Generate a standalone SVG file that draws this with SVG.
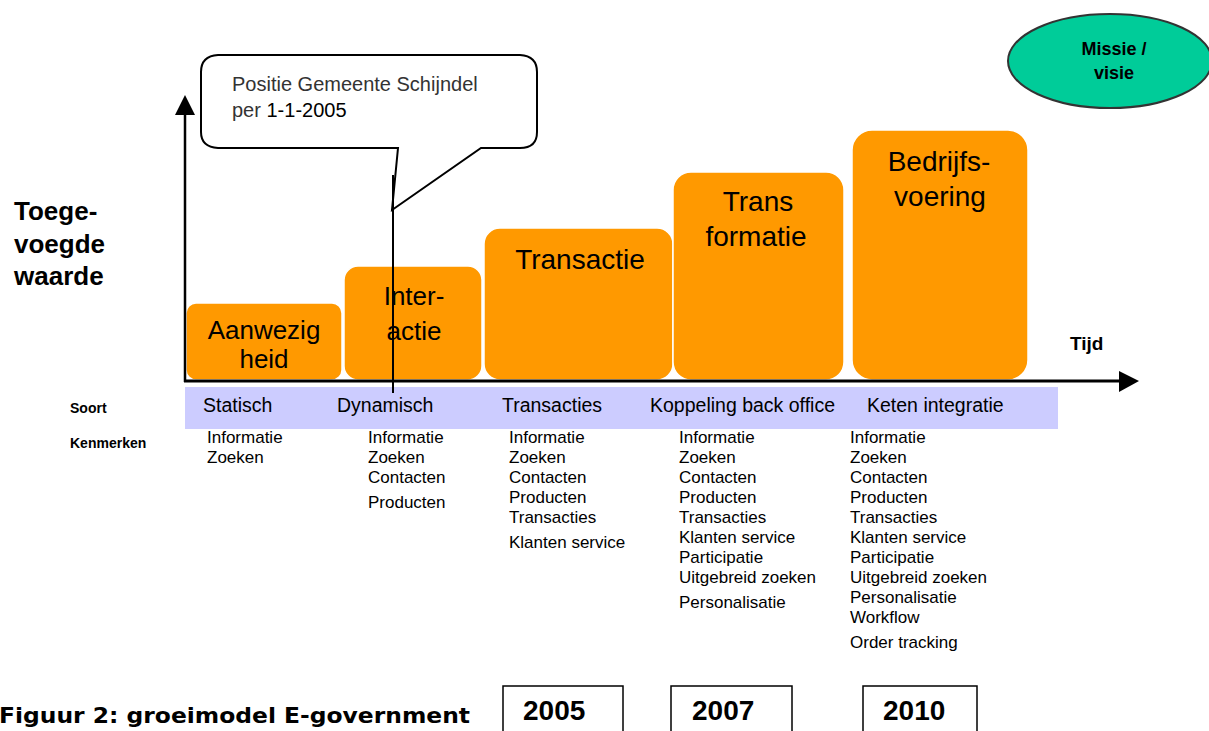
<svg xmlns="http://www.w3.org/2000/svg" width="1209" height="731" viewBox="0 0 1209 731">
<style>
.box{fill:#FF9900;stroke:#ffffff;stroke-width:1.5}
.bt{font-family:"Liberation Sans",Arial,sans-serif;fill:#000;text-anchor:middle}
.band{font-family:"Liberation Sans",Arial,sans-serif;font-size:19.5px;fill:#000}
.li{font-family:"Liberation Sans",Arial,sans-serif;font-size:17px;fill:#000}
.b{font-family:"Liberation Sans",Arial,sans-serif;font-weight:bold;fill:#000}
.yr{fill:#fff;stroke:#000;stroke-width:1.5}
</style>
<rect width="1209" height="731" fill="#fff"/>
<g id="band">
<rect x="185" y="387" width="873" height="42" fill="#CCCCFF"/>
<text class="band" x="203" y="412">Statisch</text>
<text class="band" x="337" y="412">Dynamisch</text>
<text class="band" x="502" y="412">Transacties</text>
<text class="band" x="650" y="412">Koppeling back office</text>
<text class="band" x="867" y="412">Keten integratie</text>
</g>
<g id="labels">
<text class="b" font-size="26" x="14" y="220">Toege-</text>
<text class="b" font-size="26" x="14" y="253">voegde</text>
<text class="b" font-size="26" x="14" y="285">waarde</text>
<text class="b" font-size="14" x="70" y="413">Soort</text>
<text class="b" font-size="14" x="70" y="448">Kenmerken</text>
<text class="b" font-size="19" x="1070" y="350">Tijd</text>
</g>
<g id="node-aanwezigheid">
<rect class="box" x="186" y="303" width="156" height="77" rx="10"/>
<text class="bt" font-size="26" x="264" y="339">Aanwezig</text>
<text class="bt" font-size="26" x="264" y="368">heid</text>
</g>
<g id="node-interactie">
<rect class="box" x="344" y="266" width="138" height="114" rx="14"/>
<text class="bt" font-size="26" x="414" y="305">Inter-</text>
<text class="bt" font-size="26" x="414" y="340">actie</text>
</g>
<g id="node-transactie">
<rect class="box" x="484" y="228" width="189" height="152" rx="16"/>
<text class="bt" font-size="28" x="580" y="269">Transactie</text>
</g>
<g id="node-transformatie">
<rect class="box" x="673" y="172" width="171" height="208" rx="18"/>
<text class="bt" font-size="28" x="758" y="211">Trans</text>
<text class="bt" font-size="28" x="756" y="246">formatie</text>
</g>
<g id="node-bedrijfsvoering">
<rect class="box" x="852" y="130" width="176" height="250" rx="20"/>
<text class="bt" font-size="28" x="939" y="171">Bedrijfs-</text>
<text class="bt" font-size="28" x="940" y="206">voering</text>
</g>
<g id="node-missie">
<ellipse cx="1110" cy="61" rx="102" ry="47" fill="#00CC99" stroke="#333" stroke-width="2"/>
<text class="b" font-size="18" x="1114" y="55" text-anchor="middle">Missie /</text>
<text class="b" font-size="18" x="1114" y="79" text-anchor="middle">visie</text>
</g>
<g id="connectors" stroke="#000" fill="none">
<line x1="185" y1="113" x2="185" y2="382" stroke-width="2.5"/>
<polygon points="175,115 195,115 185,95" fill="#000" stroke="none"/>
<line x1="184" y1="381" x2="1121" y2="381" stroke-width="3"/>
<polygon points="1119,371 1119,392 1139,381" fill="#000" stroke="none"/>
</g>
<g id="node-callout">
<path d="M218 55 L520 55 Q537 56 537 72 L537 132 Q537 148 520 148 L481 148 L392 210 L398 148 L218 148 Q201 147 201 132 L201 72 Q201 56 218 55 Z" fill="#fff" stroke="#000" stroke-width="2"/>
<text font-family="Liberation Sans, Arial, sans-serif" font-size="20" fill="#333" x="232" y="91">Positie Gemeente Schijndel</text>
<text font-family="Liberation Sans, Arial, sans-serif" font-size="20" fill="#333" x="232" y="117">per <tspan fill="#000">1-1-2005</tspan></text>
<line x1="393" y1="175" x2="393" y2="393" stroke="#000" stroke-width="2"/>
</g>
<g id="kenmerken">
<text class="li" x="207" y="443">Informatie</text>
<text class="li" x="207" y="463">Zoeken</text>
<text class="li" x="368" y="443">Informatie</text>
<text class="li" x="368" y="463">Zoeken</text>
<text class="li" x="368" y="483">Contacten</text>
<text class="li" x="368" y="508">Producten</text>
<text class="li" x="509" y="443">Informatie</text>
<text class="li" x="509" y="463">Zoeken</text>
<text class="li" x="509" y="483">Contacten</text>
<text class="li" x="509" y="503">Producten</text>
<text class="li" x="509" y="523">Transacties</text>
<text class="li" x="509" y="548">Klanten service</text>
<text class="li" x="679" y="443">Informatie</text>
<text class="li" x="679" y="463">Zoeken</text>
<text class="li" x="679" y="483">Contacten</text>
<text class="li" x="679" y="503">Producten</text>
<text class="li" x="679" y="523">Transacties</text>
<text class="li" x="679" y="543">Klanten service</text>
<text class="li" x="679" y="563">Participatie</text>
<text class="li" x="679" y="583">Uitgebreid zoeken</text>
<text class="li" x="679" y="608">Personalisatie</text>
<text class="li" x="850" y="443">Informatie</text>
<text class="li" x="850" y="463">Zoeken</text>
<text class="li" x="850" y="483">Contacten</text>
<text class="li" x="850" y="503">Producten</text>
<text class="li" x="850" y="523">Transacties</text>
<text class="li" x="850" y="543">Klanten service</text>
<text class="li" x="850" y="563">Participatie</text>
<text class="li" x="850" y="583">Uitgebreid zoeken</text>
<text class="li" x="850" y="603">Personalisatie</text>
<text class="li" x="850" y="623">Workflow</text>
<text class="li" x="850" y="648">Order tracking</text>
</g>
<g id="caption">
<text font-family="DejaVu Sans, sans-serif" font-weight="bold" font-size="21" x="-1" y="723" textLength="471" lengthAdjust="spacingAndGlyphs">Figuur 2: groeimodel  E-government</text>
</g>
<g id="node-2005">
<rect class="yr" x="503" y="686" width="120" height="60"/>
<text class="b" font-size="28" x="523" y="720">2005</text>
</g>
<g id="node-2007">
<rect class="yr" x="671" y="686" width="121" height="60"/>
<text class="b" font-size="28" x="692" y="720">2007</text>
</g>
<g id="node-2010">
<rect class="yr" x="863" y="686" width="114" height="60"/>
<text class="b" font-size="28" x="883" y="720">2010</text>
</g>
</svg>
